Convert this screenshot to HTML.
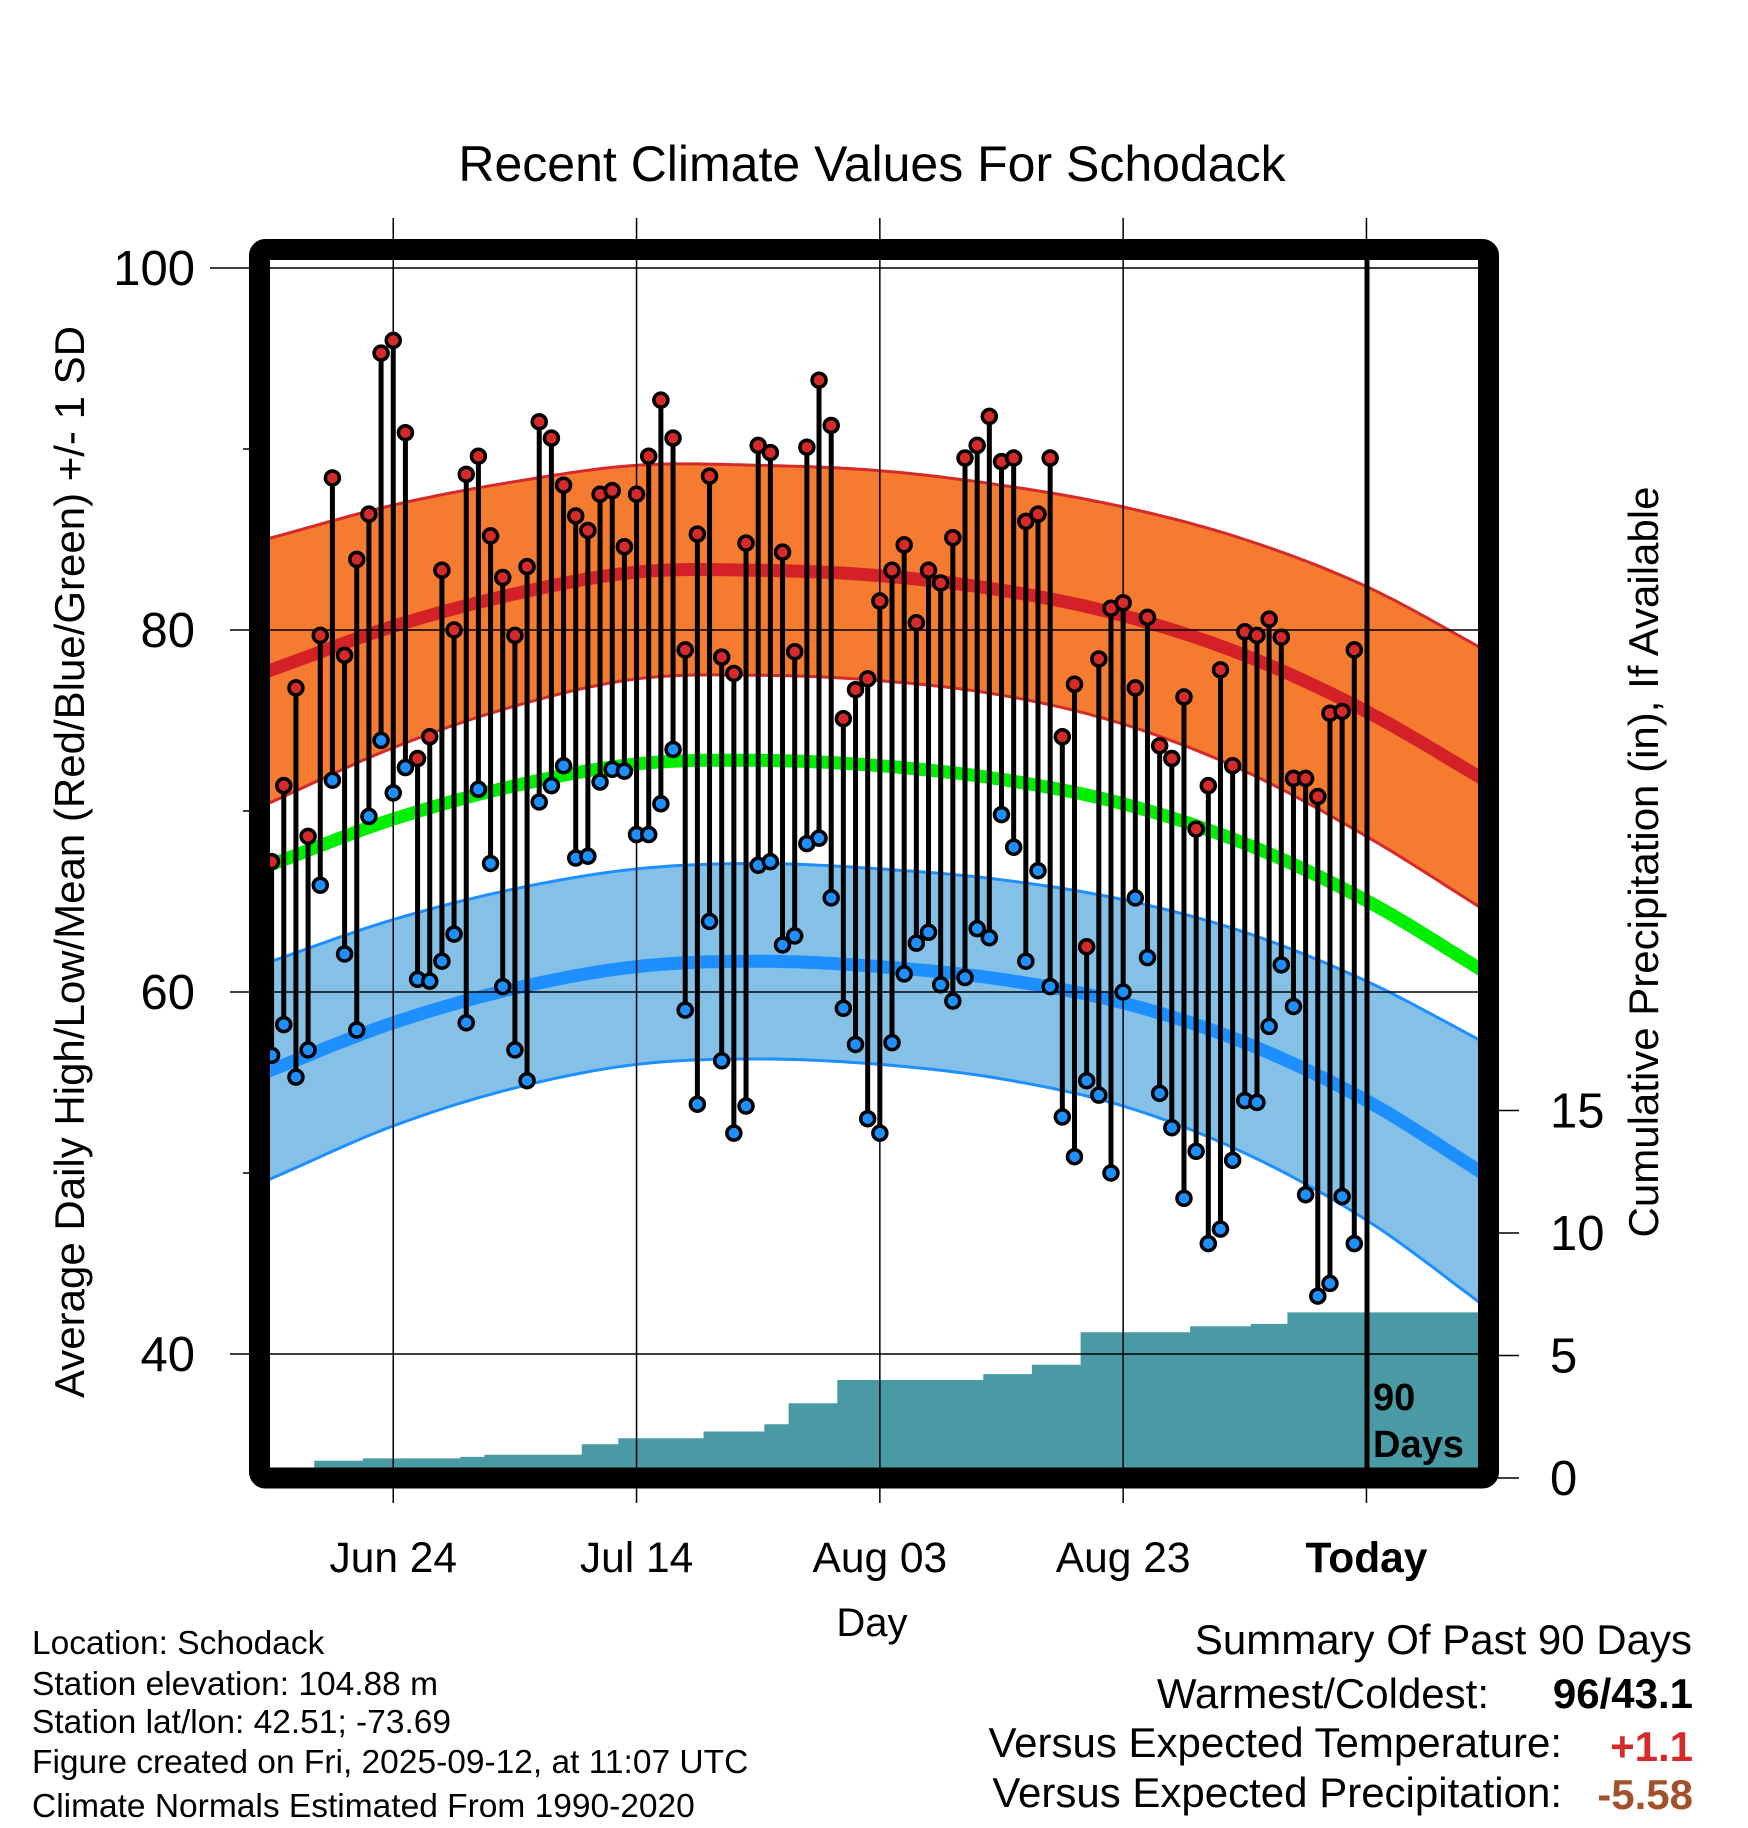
<!DOCTYPE html>
<html><head><meta charset="utf-8"><style>
body{margin:0;background:#fff}
svg{display:block;font-family:"Liberation Sans",sans-serif}
</style></head><body>
<svg id="chart" width="1748" height="1828" viewBox="0 0 1748 1828">
<defs><clipPath id="pc"><rect x="270" y="260" width="1208" height="1208"/></clipPath></defs>
<text x="872" y="181" font-size="50" text-anchor="middle">Recent Climate Values For Schodack</text>
<g id="bands" clip-path="url(#pc)"></g>
<g id="grid"></g>
<g id="marks" clip-path="url(#pc)"></g>
<rect x="259.5" y="249.5" width="1229" height="1228.5" rx="6" fill="none" stroke="#000" stroke-width="21"/>
<line x1="1367" y1="250" x2="1367" y2="1478" stroke="#000" stroke-width="5"/>
<text x="1373" y="1410" font-size="38" font-weight="bold">90</text>
<text x="1373" y="1457" font-size="38" font-weight="bold">Days</text>
<g id="axes"></g>
<text transform="translate(84,862) rotate(-90)" font-size="42" text-anchor="middle">Average Daily High/Low/Mean (Red/Blue/Green) +/- 1 SD</text>
<text transform="translate(1658,862) rotate(-90)" font-size="42" text-anchor="middle">Cumulative Precipitation (in), If Available</text>
<text x="872" y="1636" font-size="40" text-anchor="middle">Day</text>
<g font-size="33.5">
<text x="32" y="1654">Location: Schodack</text>
<text x="32" y="1695">Station elevation: 104.88 m</text>
<text x="32" y="1733">Station lat/lon: 42.51; -73.69</text>
<text x="32" y="1773">Figure created on Fri, 2025-09-12, at 11:07 UTC</text>
<text x="32" y="1817">Climate Normals Estimated From 1990-2020</text>
</g>
<g font-size="42" text-anchor="end">
<text x="1692" y="1654">Summary Of Past 90 Days</text>
<text x="1489" y="1708">Warmest/Coldest:</text>
<text x="1693" y="1708" font-weight="bold">96/43.1</text>
<text x="1562" y="1757">Versus Expected Temperature:</text>
<text x="1693" y="1761" font-weight="bold" fill="#d42a2a">+1.1</text>
<text x="1562" y="1807">Versus Expected Precipitation:</text>
<text x="1693" y="1809" font-weight="bold" fill="#a0522d">-5.58</text>
</g>
</svg>
<script>
const highs=[67.2,71.4,76.8,68.6,79.7,88.4,78.6,83.9,86.4,95.3,96.0,90.9,72.9,74.1,83.3,80.0,88.6,89.6,85.2,82.9,79.7,83.5,91.5,90.6,88.0,86.3,85.5,87.5,87.7,84.6,87.5,89.6,92.7,90.6,78.9,85.3,88.5,78.5,77.6,84.8,90.2,89.8,84.3,78.8,90.1,93.8,91.3,75.1,76.7,77.3,81.6,83.3,84.7,80.4,83.3,82.6,85.1,89.5,90.2,91.8,89.3,89.5,86.0,86.4,89.5,74.1,77.0,62.5,78.4,81.2,81.5,76.8,80.7,73.6,72.9,76.3,69.0,71.4,77.8,72.5,79.9,79.7,80.6,79.6,71.8,71.8,70.8,75.4,75.5,78.9];
const lows=[56.5,58.2,55.3,56.8,65.9,71.7,62.1,57.9,69.7,73.9,71.0,72.4,60.7,60.6,61.7,63.2,58.3,71.2,67.1,60.3,56.8,55.1,70.5,71.4,72.5,67.4,67.5,71.6,72.3,72.2,68.7,68.7,70.4,73.4,59.0,53.8,63.9,56.2,52.2,53.7,67.0,67.2,62.6,63.1,68.2,68.5,65.2,59.1,57.1,53.0,52.2,57.2,61.0,62.7,63.3,60.4,59.5,60.8,63.5,63.0,69.8,68.0,61.7,66.7,60.3,53.1,50.9,55.1,54.3,50.0,60.0,65.2,61.9,54.4,52.5,48.6,51.2,46.1,46.9,50.7,54.0,53.9,58.1,61.5,59.2,48.8,43.2,43.9,48.7,46.1];
const normDays=[0,10,20,30,40,50,60,70,80,90,100];
const normHigh=[77.8,80.2,82.0,83.2,83.3,83.0,82.2,80.8,78.6,75.5,71.6];
const normLow=[55.7,58.3,60.2,61.4,61.7,61.4,60.7,59.4,57.2,54.0,49.8];
const sdHigh=[7.3,6.7,6.2,5.9,5.8,5.8,5.8,6.0,6.4,6.9,7.2];
const sdLow=[6.0,5.7,5.5,5.4,5.4,5.4,5.5,5.7,6.1,6.6,7.3];
const rainDays=[4,8,16,18,26,29,36,41,43,47,59,63,67,76,81,84];
const rainAmts=[0.70,0.10,0.06,0.09,0.43,0.24,0.28,0.29,0.86,0.95,0.24,0.38,1.33,0.24,0.10,0.47];
const dateTicks=[10,30,50,70,90];
const dateLabels=["Jun 24","Jul 14","Aug 03","Aug 23","Today"];
const tempTicks=[100,80,60,40];
const minorTicks=[90,70,50];
const precipTicks=[0,5,10,15];

const NS="http://www.w3.org/2000/svg";
const X=d=>271.6+d*12.165;
const Y=t=>268+(100-t)*18.1;
const YP=p=>1478-p*24.5;
function mk(tag,attrs,parent){const e=document.createElementNS(NS,tag);for(const k in attrs)e.setAttribute(k,attrs[k]);parent.appendChild(e);return e;}
function smooth(arr,d){
  const n=arr.length;
  let i=Math.max(0,Math.min(Math.floor(d/10),n-2));const t=(d-normDays[i])/10;
  const p1=arr[i],p2=arr[i+1];
  const p0=i>0?arr[i-1]:2*p1-p2;
  const p3=i+2<n?arr[i+2]:2*p2-p1;
  return 0.5*((2*p1)+(-p0+p2)*t+(2*p0-5*p1+4*p2-p3)*t*t+(-p0+3*p1-3*p2+p3)*t*t*t);}
const bands=document.getElementById('bands');
const samp=[];for(let d=-1;d<=100;d+=0.5)samp.push(d);
function curve(fn){return samp.map(d=>X(d).toFixed(1)+","+Y(fn(d)).toFixed(1)).join(" ");}
function band(fnU,fnL,fill,stroke,name){
  const pts=curve(fnU)+" "+samp.slice().reverse().map(d=>X(d).toFixed(1)+","+Y(fnL(d)).toFixed(1)).join(" ");
  const p=mk('polygon',{points:pts,fill:fill,stroke:'none'},bands);
  
  
  const a=mk('polyline',{points:curve(fnU),fill:'none',stroke:stroke,'stroke-width':3},bands);
  
  
  const b=mk('polyline',{points:curve(fnL),fill:'none',stroke:stroke,'stroke-width':3},bands);
  
  
}
const nh=d=>smooth(normHigh,d), nl=d=>smooth(normLow,d), sh=d=>smooth(sdHigh,d), sl=d=>smooth(sdLow,d);
band(d=>nh(d)+sh(d),d=>nh(d)-sh(d),'#f47b2f','#d42a2a','high-sd-band');
band(d=>nl(d)+sl(d),d=>nl(d)-sl(d),'#85c1e6','#1e8fff','low-sd-band');
let l=mk('polyline',{points:curve(nh),fill:'none',stroke:'#d42127','stroke-width':13},bands);


l=mk('polyline',{points:curve(nl),fill:'none',stroke:'#1e8fff','stroke-width':13},bands);


l=mk('polyline',{points:curve(d=>(nh(d)+nl(d))/2+0.3),fill:'none',stroke:'#00ee00','stroke-width':13},bands);


let cum=0,ppts=[[X(-1),YP(0)]];
for(let i=0;i<rainDays.length;i++){const x=X(rainDays[i]-0.5);ppts.push([x,YP(cum)]);cum+=rainAmts[i];ppts.push([x,YP(cum)]);}
ppts.push([X(101),YP(cum)]);ppts.push([X(101),YP(0)]);
const pr=mk('polygon',{points:ppts.map(p=>p[0].toFixed(1)+","+p[1].toFixed(1)).join(" "),fill:'#4a9aa5'},bands);


const grid=document.getElementById('grid');
tempTicks.forEach(t=>{const g=mk('line',{x1:t===100?210:230,x2:1490,y1:Y(t),y2:Y(t),stroke:'#000','stroke-width':1.5},grid);

});
dateTicks.forEach(d=>{const g=mk('line',{x1:X(d),x2:X(d),y1:218,y2:1503,stroke:'#000','stroke-width':1.5},grid);

});
const marks=document.getElementById('marks');
highs.forEach((h,i)=>{const x=X(i);
  const s=mk('line',{x1:x,x2:x,y1:Y(h),y2:Y(lows[i]),stroke:'#000','stroke-width':5},marks);
  
  
  const c1=mk('circle',{cx:x,cy:Y(h),r:7,fill:'#d42a2a',stroke:'#000','stroke-width':3.5},marks);
  
  
  const c2=mk('circle',{cx:x,cy:Y(lows[i]),r:7,fill:'#1e8fff',stroke:'#000','stroke-width':3.5},marks);
  
  
});
const axes=document.getElementById('axes');
tempTicks.forEach(t=>{const e=mk('text',{x:195,y:Y(t)+17,'font-size':49,'text-anchor':'end'},axes);e.textContent=t;

});
minorTicks.forEach(t=>{const e=mk('line',{x1:243,x2:253,y1:Y(t),y2:Y(t),stroke:'#000','stroke-width':1.5},axes);

});
precipTicks.forEach(p=>{const e=mk('line',{x1:1498,x2:1519,y1:YP(p),y2:YP(p),stroke:'#000','stroke-width':1.5},axes);


const t=mk('text',{x:1550,y:YP(p)+17,'font-size':49},axes);t.textContent=p;

});
dateTicks.forEach((d,i)=>{const t=mk('text',{x:X(d),y:1572,'font-size':42.5,'text-anchor':'middle','font-weight':dateLabels[i]==='Today'?'bold':'normal'},axes);t.textContent=dateLabels[i];

});
</script>
</body></html>
